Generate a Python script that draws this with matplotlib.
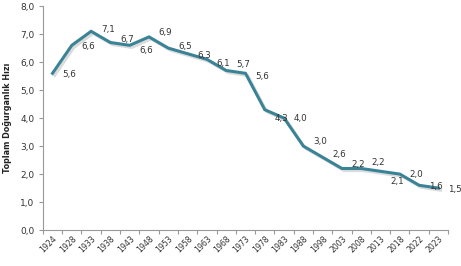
import matplotlib
matplotlib.use("Agg")
import matplotlib.pyplot as plt
import matplotlib.patheffects as pe
from matplotlib.ticker import FixedLocator, FuncFormatter

years = ["1924", "1928", "1933", "1938", "1943", "1948", "1953", "1958", "1963", "1968",
         "1973", "1978", "1983", "1988", "1998", "2003", "2008", "2013", "2018", "2022", "2023"]
tfr = [5.6, 6.6, 7.1, 6.7, 6.6, 6.9, 6.5, 6.3, 6.1, 5.7,
       5.6, 4.3, 4.0, 3.0, 2.6, 2.2, 2.2, 2.1, 2.0, 1.6, 1.5]

# vertical nudge of each value label (points)
label_dy = [-1, -1, 1, 2, -4, 3, 1, -1, -3, 4, -2, -6, 0, 3, 2, 3, 4, -7, 0, -1, -1]

fig = plt.figure(figsize=(4.61, 2.66), dpi=100)
ax = fig.add_axes([0.093, 0.135, 0.879, 0.842])

x = list(range(len(years)))
ax.plot(x, tfr, color="#3a8397", lw=2.2, solid_joinstyle="miter",
        path_effects=[pe.SimpleLineShadow(offset=(1.5, -1.5), shadow_color="#999999", alpha=0.35),
                      pe.Normal()])

for i, v in enumerate(tfr):
    ax.annotate(f"{v:.1f}".replace(".", ","), (i, v), xytext=(7, label_dy[i]),
                textcoords="offset points", ha="left", va="center", fontsize=6.3, color="#333333")

ax.set_xlim(-0.5, len(years) - 0.5)
ax.set_ylim(0, 8)
ax.set_yticks([0, 1, 2, 3, 4, 5, 6, 7, 8])
ax.yaxis.set_major_formatter(FuncFormatter(lambda v, p: f"{v:.1f}".replace(".", ",")))

ax.xaxis.set_major_locator(FixedLocator([i - 0.5 for i in range(len(years) + 1)]))
ax.xaxis.set_major_formatter(FuncFormatter(lambda v, p: ""))
ax.xaxis.set_minor_locator(FixedLocator(x))
ax.set_xticklabels(years, minor=True, rotation=45, ha="right", rotation_mode="anchor", fontsize=5.6, color="#333333")
ax.tick_params(axis="x", which="minor", length=0, pad=3)
ax.tick_params(axis="x", which="major", length=3, color="#999999")
ax.tick_params(axis="y", length=3, color="#999999", labelsize=6.5, labelcolor="#333333", pad=3)

for s in ["top", "right"]:
    ax.spines[s].set_visible(False)
for s in ["left", "bottom"]:
    ax.spines[s].set_color("#999999")
    ax.spines[s].set_linewidth(0.8)

ax.set_ylabel("Toplam Doğurganlık Hızı", fontsize=5.8, fontweight="bold", color="#222222", labelpad=6)

fig.savefig("out.png", dpi=100)
